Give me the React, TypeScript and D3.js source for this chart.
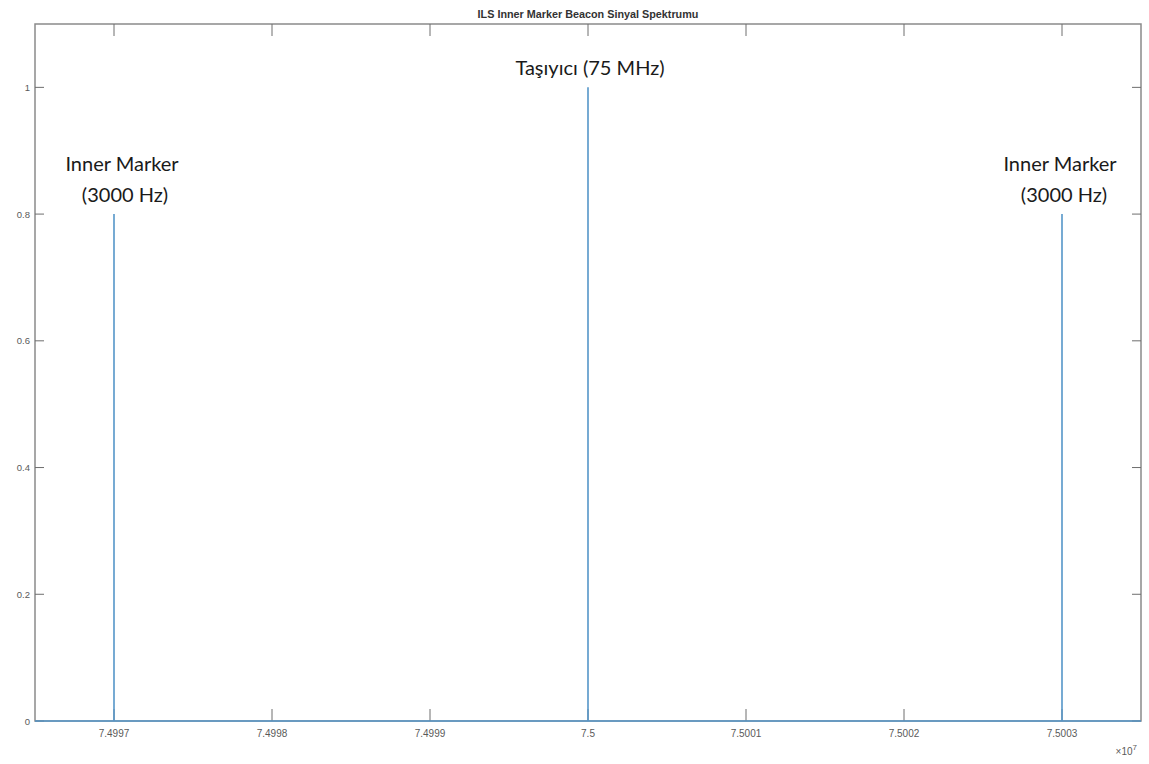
import * as d3 from 'd3';
import { useEffect, useRef } from 'react';

const width = 1149;
const height = 764;
const marginTop = 24;
const marginRight = 8;
const marginBottom = 43;
const marginLeft = 35;

// spectrum data (Hz, normalized amplitude)
const freqDomain: [number, number] = [74996500, 75003500];
const peakFreqs = [74997000, 75000000, 75003000];
const peakAmps = [0.8, 1, 0.8];
const xTicks = [74997000, 74998000, 74999000, 75000000, 75001000, 75002000, 75003000];
const xTickLabels = ['7.4997', '7.4998', '7.4999', '7.5', '7.5001', '7.5002', '7.5003'];
const yTicks = [0, 0.2, 0.4, 0.6, 0.8, 1];
const yTickLabels = ['0', '0.2', '0.4', '0.6', '0.8', '1'];

const title = 'ILS Inner Marker Beacon Sinyal Spektrumu';
const annotations = [
  { freq: 74997000, amp: 0.8, lines: ['Inner Marker', '(3000 Hz)'], dx: [8, 11] },
  { freq: 75000000, amp: 1, lines: ['Taşıyıcı (75 MHz)'], dx: [2] },
  { freq: 75003000, amp: 0.8, lines: ['Inner Marker', '(3000 Hz)'], dx: [-2, 2] },
];

const axisColor = '#8a8a8a';
const tickColor = '#6e6e6e';
const labelColor = '#5a5a5a';
const lineColor = '#5596c9';

export default function App() {
  const ref = useRef<HTMLDivElement>(null);

  useEffect(() => {
    if (!ref.current) return;

    const x = d3
      .scaleLinear()
      .domain(freqDomain)
      .range([marginLeft, width - marginRight]);
    const y = d3
      .scaleLinear()
      .domain([0, 1.1])
      .range([height - marginBottom, marginTop]);

    const svg = d3
      .create('svg')
      .attr('width', width)
      .attr('height', height)
      .style('display', 'block')
      .style('background', '#fff');

    const x0 = marginLeft;
    const x1 = width - marginRight;
    const y0 = height - marginBottom;
    const y1 = marginTop;

    // 枠
    svg
      .append('rect')
      .attr('x', x0)
      .attr('y', y1)
      .attr('width', x1 - x0)
      .attr('height', y0 - y1)
      .attr('fill', 'none')
      .attr('stroke', axisColor)
      .attr('stroke-width', 1.5);

    // x ticks (top and bottom, inward)
    const xt = svg.append('g');
    xTicks.forEach((t) => {
      xt.append('line')
        .attr('x1', x(t))
        .attr('x2', x(t))
        .attr('y1', y0)
        .attr('y2', y0 - 12)
        .attr('stroke', tickColor);
      xt.append('line')
        .attr('x1', x(t))
        .attr('x2', x(t))
        .attr('y1', y1)
        .attr('y2', y1 + 12)
        .attr('stroke', tickColor);
    });
    xt.selectAll('text')
      .data(xTicks)
      .join('text')
      .attr('x', (d) => x(d))
      .attr('y', y0 + 16)
      .attr('text-anchor', 'middle')
      .attr('font-family', 'Liberation Sans, Arial, sans-serif')
      .attr('font-size', 10)
      .attr('fill', labelColor)
      .text((_, i) => xTickLabels[i]);

    // y ticks (left and right)
    const yt = svg.append('g');
    yTicks.forEach((t) => {
      yt.append('line')
        .attr('x1', x0)
        .attr('x2', x0 + 9)
        .attr('y1', y(t))
        .attr('y2', y(t))
        .attr('stroke', tickColor);
      yt.append('line')
        .attr('x1', x1)
        .attr('x2', x1 - 9)
        .attr('y1', y(t))
        .attr('y2', y(t))
        .attr('stroke', tickColor);
    });
    yt.selectAll('text')
      .data(yTicks)
      .join('text')
      .attr('x', x0 - 5)
      .attr('y', (d) => y(d) + 3.5)
      .attr('text-anchor', 'end')
      .attr('font-family', 'Liberation Sans, Arial, sans-serif')
      .attr('font-size', 9.5)
      .attr('fill', labelColor)
      .text((_, i) => yTickLabels[i]);

    // ×10^7
    const exp = svg
      .append('text')
      .attr('x', x1 - 4)
      .attr('y', height - 9)
      .attr('text-anchor', 'end')
      .attr('font-family', 'Liberation Sans, Arial, sans-serif')
      .attr('font-size', 10)
      .attr('fill', labelColor);
    exp.append('tspan').text('×10');
    exp.append('tspan').attr('dy', -5).attr('font-size', 8).text('7');

    // title
    svg
      .append('text')
      .attr('x', (x0 + x1) / 2)
      .attr('y', 18)
      .attr('text-anchor', 'middle')
      .attr('font-family', 'Liberation Sans, Arial, sans-serif')
      .attr('font-weight', 'bold')
      .attr('font-size', 10.8)
      .attr('fill', '#333')
      .text(title);

    // spectrum line
    const pts: Array<[number, number]> = [[freqDomain[0], 0]];
    peakFreqs.forEach((f, i) => {
      pts.push([f, 0], [f, peakAmps[i]], [f, 0]);
    });
    pts.push([freqDomain[1], 0]);
    const line = d3
      .line<[number, number]>()
      .x((d) => x(d[0]))
      .y((d) => y(d[1]));
    svg
      .append('path')
      .datum(pts)
      .attr('fill', 'none')
      .attr('stroke', lineColor)
      .attr('stroke-width', 1.6)
      .attr('d', line);

    // annotations
    annotations.forEach((a) => {
      const n = a.lines.length;
      a.lines.forEach((l, i) => {
        svg
          .append('text')
          .attr('x', x(a.freq) + a.dx[i])
          .attr('y', y(a.amp) - 12 - (n - 1 - i) * 31)
          .attr('text-anchor', 'middle')
          .attr('font-family', 'Lato, Noto Sans, sans-serif')
          .attr('font-size', 20)
          .attr('fill', '#1a1a1a')
          .text(l);
      });
    });

    ref.current.innerHTML = '';
    ref.current.appendChild(svg.node()!);
  }, [ref]);

  return (
    <div
      ref={ref}
      style={{ position: 'absolute', left: 0, top: 0, width, height }}
    />
  );
}
